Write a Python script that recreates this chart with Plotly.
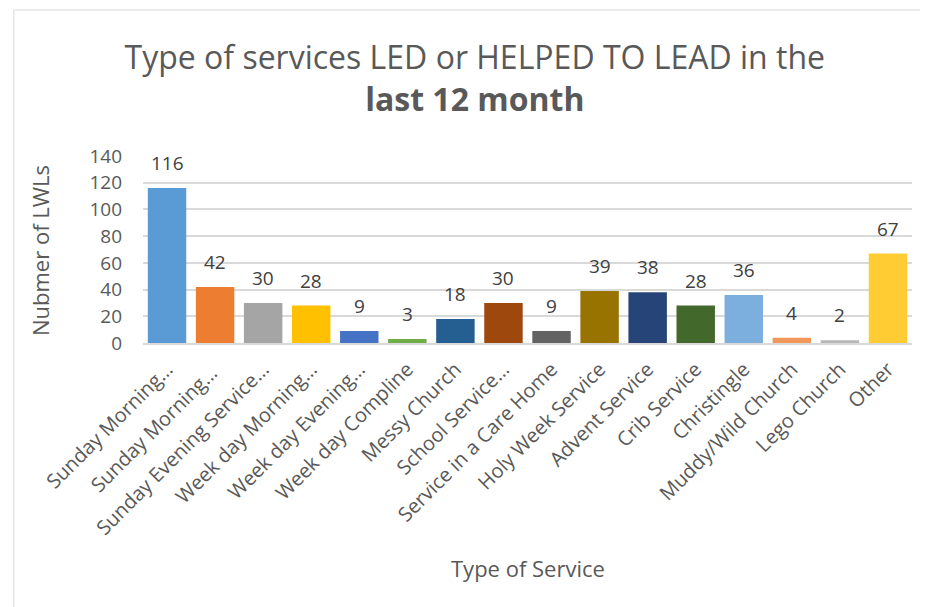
import plotly.graph_objects as go

# data
services = ["Sunday Morning…", "Sunday Morning… ", "Sunday Evening Service…",
            "Week day Morning…", "Week day Evening…", "Week day Compline",
            "Messy Church", "School Service…", "Service in a Care Home",
            "Holy Week Service", "Advent Service", "Crib Service", "Christingle",
            "Muddy/Wild Church", "Lego Church", "Other"]
counts = [116, 42, 30, 28, 9, 3, 18, 30, 9, 39, 38, 28, 36, 4, 2, 67]
colours = ["#5B9BD5", "#ED7D31", "#A5A5A5", "#FFC000", "#4472C4", "#70AD47",
           "#255E91", "#9E480E", "#636363", "#997300", "#264478", "#43682B",
           "#7CAFDD", "#F1975A", "#B7B7B7", "#FFCD33"]

FONT = "Open Sans"
GREY = "#595959"

fig = go.Figure()
fig.add_trace(go.Bar(
    x=services,
    y=counts,
    marker=dict(color=colours, line=dict(width=0)),
    width=0.8,
))

# value labels sit a bit higher above the bars than plotly's own text
labels = [dict(x=s, y=c, text=str(c), xref="x", yref="y", showarrow=False,
               yanchor="middle", yshift=25,
               font=dict(family=FONT, size=19, color="#404040"))
          for s, c in zip(services, counts)]

# the page body adds an 8px offset, so margins are shifted by 8
fig.update_layout(
    width=928, height=607,
    paper_bgcolor="white", plot_bgcolor="white",
    margin=dict(l=135, r=24, t=148, b=272),
    showlegend=False,
    font=dict(family=FONT, color=GREY),
    title=dict(
        text="Type of services LED or HELPED TO LEAD in the<br><b>last 12 month</b>",
        x=0.503, xanchor="center", y=0.899, yanchor="top",
        font=dict(family=FONT, size=32, color=GREY),
    ),
    xaxis=dict(
        tickangle=-45, automargin=False, ticklabelstandoff=5,
        tickfont=dict(family=FONT, size=20, color=GREY),
        showline=True, linecolor="#D9D9D9", linewidth=1.5,
    ),
    yaxis=dict(
        range=[0, 140], dtick=20, automargin=False, ticklabelstandoff=20,
        tickfont=dict(family=FONT, size=19, color=GREY),
        gridcolor="#D9D9D9", gridwidth=1.5, zeroline=False,
    ),
    annotations=labels + [
        dict(text="Type of Service", xref="paper", yref="paper", x=0.5, y=-1.201,
             xanchor="center", yanchor="middle", showarrow=False,
             font=dict(family=FONT, size=22, color=GREY)),
        dict(text="Nubmer of LWLs", xref="paper", yref="paper", x=-0.134, y=0.497,
             xanchor="center", yanchor="middle", textangle=-90, showarrow=False,
             font=dict(family=FONT, size=22, color=GREY)),
    ],
    shapes=[dict(type="rect", xref="paper", yref="paper",
                 x0=-0.168, x1=1.03, y0=-1.5, y1=1.781,
                 line=dict(color="#D9D9D9", width=1))],
)

fig.write_html("out.html")
